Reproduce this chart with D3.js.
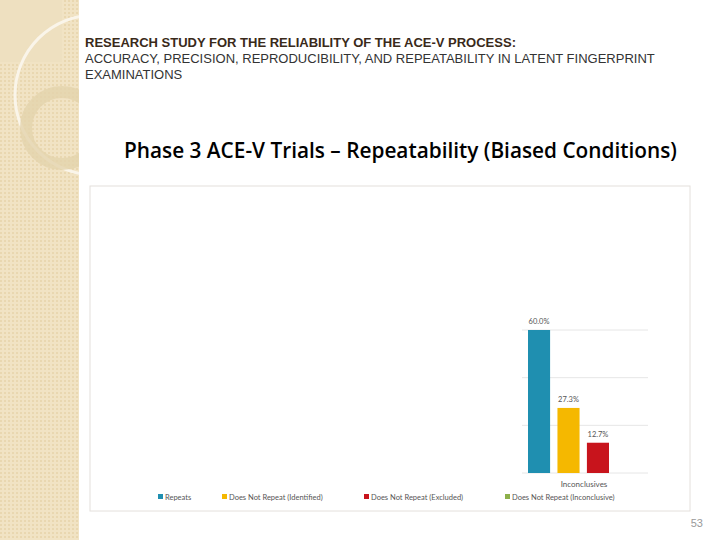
<!DOCTYPE html><html><head><meta charset="utf-8"><script src="https://cdn.jsdelivr.net/npm/d3@7"></script>
<style>body{margin:0;background:#fff}</style></head><body><svg id="s" width="720" height="540"></svg>
<script>
const categories=["Inconclusives"];
const series=["Repeats","Does Not Repeat (Identified)","Does Not Repeat (Excluded)","Does Not Repeat (Inconclusive)"];
const values=[60.0,27.3,12.7,null];
const colors=["#1f8fb0","#f5b800","#c8141c","#8db04a"];
const yTicks=[0,20,40,60];
const svg=d3.select("#s");
const d=svg.append("defs");
const p=d.append("pattern").attr("id","pt").attr("width",4).attr("height",4).attr("patternUnits","userSpaceOnUse");
p.append("rect").attr("width",4).attr("height",4).attr("fill","#f1e3c4");
p.append("rect").attr("width",2).attr("height",2).attr("fill","#e9d7b0");
svg.append("rect").attr("width",79).attr("height",540).attr("fill","url(#pt)");
svg.append("rect").attr("width",62).attr("height",62).attr("fill","#eee0c0");
svg.append("circle").attr("cx",95).attr("cy",95).attr("r",80).attr("fill","none").attr("stroke","#faf5ea").attr("stroke-width",3);
svg.append("circle").attr("cx",62).attr("cy",128).attr("r",36).attr("fill","none").attr("stroke","#e3d3ad").attr("stroke-width",12).attr("opacity",0.8);
svg.append("rect").attr("x",79).attr("width",641).attr("height",540).attr("fill","#fff");
const f="Liberation Sans, Arial, sans-serif";
svg.append("text").attr("x",85).attr("y",47).attr("font-family",f).attr("font-size",13).attr("font-weight","bold").attr("fill","#3a2a1a").text("RESEARCH STUDY FOR THE RELIABILITY OF THE ACE-V PROCESS:");
svg.append("text").attr("x",85).attr("y",63).attr("font-family",f).attr("font-size",13).attr("fill","#333").text("ACCURACY, PRECISION, REPRODUCIBILITY, AND REPEATABILITY IN LATENT FINGERPRINT");
svg.append("text").attr("x",85).attr("y",79).attr("font-family",f).attr("font-size",13).attr("fill","#333").text("EXAMINATIONS");
svg.append("text").attr("x",124).attr("y",158).attr("font-family","Open Sans, sans-serif").attr("font-size",20.8).attr("font-weight",600).attr("fill","#000").text("Phase 3 ACE-V Trials – Repeatability (Biased Conditions)");
svg.append("rect").attr("x",90).attr("y",186).attr("width",600).attr("height",325).attr("fill","#fff").attr("stroke","#e4e0dc");
svg.append("text").attr("x",703).attr("y",527).attr("text-anchor","end").attr("font-family",f).attr("font-size",11).attr("fill","#999").text("53");
const y=d3.scaleLinear().domain([0,60]).range([473,330]);
const x=d3.scaleBand().domain(categories).range([522,648]);
const xs=d3.scaleBand().domain(series.slice(0,3)).range([x(categories[0])+6,x(categories[0])+87]).paddingInner(0.25);
svg.append("g").selectAll("line").data(yTicks).join("line").attr("x1",522).attr("x2",648).attr("y1",d=>y(d)).attr("y2",d=>y(d)).attr("stroke","#e6e6e6");
series.forEach((s,i)=>{const v=values[i];if(v==null)return;
 svg.append("rect").attr("x",xs(s)).attr("width",xs.bandwidth()).attr("y",y(v)).attr("height",y(0)-y(v)).attr("fill",colors[i]);
 svg.append("text").attr("x",xs(s)+xs.bandwidth()/2).attr("y",y(v)-6).attr("text-anchor","middle").attr("font-family","Lato, sans-serif").attr("font-size",7.5).attr("fill","#555").text(v.toFixed(1)+"%");});
svg.append("text").attr("x",x(categories[0])+62).attr("y",487).attr("text-anchor","middle").attr("font-family","Lato, sans-serif").attr("font-size",8).attr("fill","#555").text(categories[0]);
const lx=[158,222,364,505];
series.forEach((s,i)=>{svg.append("rect").attr("x",lx[i]).attr("y",494).attr("width",5).attr("height",5).attr("fill",colors[i]);
 svg.append("text").attr("x",lx[i]+7).attr("y",500).attr("font-family","Lato, sans-serif").attr("font-size",7.5).attr("fill","#555").text(s);});
</script></body></html>
